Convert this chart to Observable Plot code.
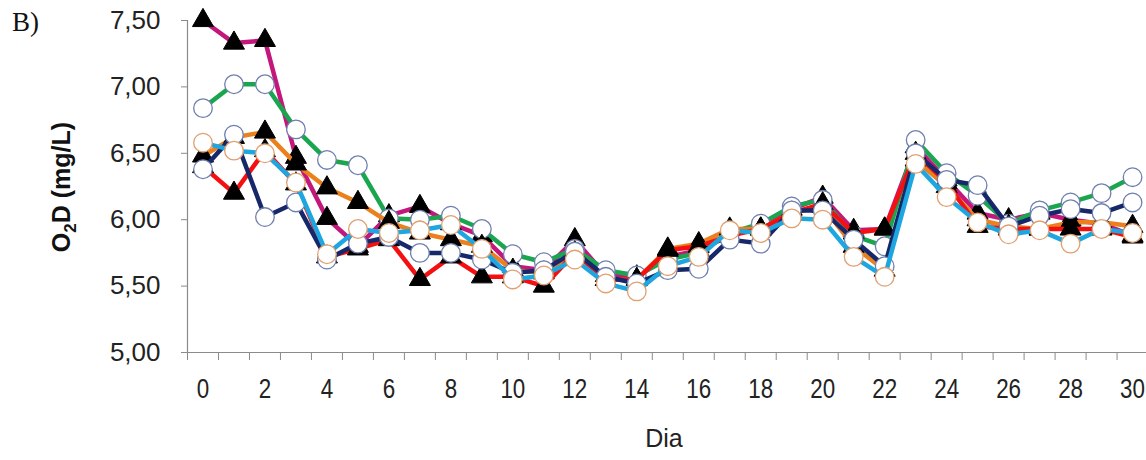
<!DOCTYPE html>
<html>
<head>
<meta charset="utf-8">
<script src="https://cdn.jsdelivr.net/npm/d3@7"></script>
<script src="https://cdn.jsdelivr.net/npm/@observablehq/plot@0.6"></script>
<style>
  html, body { margin: 0; padding: 0; background: #fff; }
  #chart { position: relative; width: 1146px; height: 460px; }
  #chart svg { position: absolute; left: 0; top: 0; }
</style>
</head>
<body>
<div id="chart"></div>
<script>
const days = d3.range(0, 31);
const yTicks = [5.0, 5.5, 6.0, 6.5, 7.0, 7.5];
const xLabels = d3.range(0, 31, 2);

const magenta = [7.50,7.33,7.35,6.47,6.01,5.80,6.03,6.10,5.97,5.88,5.65,5.62,5.85,5.58,5.57,5.72,5.77,5.88,5.95,6.08,6.17,5.92,5.93,6.55,6.30,6.05,6.00,6.05,6.00,5.97,5.88];
const green   = [6.84,7.02,7.02,6.68,6.45,6.41,6.01,6.00,6.03,5.93,5.74,5.68,5.78,5.62,5.58,5.70,5.75,5.90,5.97,6.10,6.15,5.88,5.80,6.60,6.35,6.18,5.97,6.07,6.13,6.20,6.32];
const orange  = [6.48,6.62,6.66,6.42,6.24,6.13,5.98,5.90,5.85,5.80,5.62,5.60,5.75,5.55,5.55,5.78,5.82,5.93,5.93,6.05,6.10,5.80,5.62,6.45,6.25,6.00,5.95,5.93,5.98,5.98,5.95];
const red     = [6.40,6.20,6.52,6.27,5.72,5.78,5.85,5.55,5.72,5.57,5.57,5.50,5.75,5.55,5.55,5.77,5.80,5.88,5.93,6.05,6.12,5.90,5.93,6.50,6.28,5.95,5.93,5.93,5.93,5.93,5.87];
const navy    = [6.38,6.64,6.02,6.13,5.70,5.82,5.87,5.75,5.75,5.70,5.60,5.62,5.76,5.57,5.52,5.62,5.63,5.85,5.82,6.07,6.07,5.85,5.65,6.50,6.30,6.26,5.95,6.03,6.08,6.05,6.13];
const cyan    = [6.58,6.52,6.50,6.28,5.74,5.93,5.90,5.92,5.96,5.78,5.55,5.58,5.70,5.52,5.46,5.65,5.72,5.92,5.90,6.01,6.00,5.72,5.57,6.42,6.17,5.98,5.89,5.92,5.82,5.93,5.90];

const series = [
  {name: "magenta", values: magenta, color: "#c4177c", marker: "triangle"},
  {name: "green",   values: green,   color: "#1aa64f", marker: "circle", ring: "#6f7fae"},
  {name: "orange",  values: orange,  color: "#ea801e", marker: "triangle"},
  {name: "red",     values: red,     color: "#f41010", marker: "triangle"},
  {name: "navy",    values: navy,    color: "#16286a", marker: "circle", ring: "#6f7fae"},
  {name: "cyan",    values: cyan,    color: "#1ea6e0", marker: "circle", ring: "#e0a070"}
];

const xEdges = days.map(d => d - 0.5).concat([30.5]);

const marks = [
  Plot.ruleY([5.0], {stroke: "#8a8a8a", strokeWidth: 1.2}),
  Plot.ruleX([-0.5], {stroke: "#8a8a8a", strokeWidth: 1.2}),
  Plot.axisX({ticks: xEdges, tickFormat: () => "", tickSize: 8, stroke: "#8a8a8a", strokeOpacity: 1}),
  Plot.axisX({ticks: xLabels, tickSize: 0, tickPadding: 26, fontSize: 28, fill: "#222",
              fontFamily: "'Liberation Sans', Arial, sans-serif"}),
  Plot.axisY({ticks: yTicks, tickSize: 6, tickPadding: 21, fontSize: 26, fill: "#222",
              stroke: "#8a8a8a", strokeOpacity: 1,
              fontFamily: "'Liberation Sans', Arial, sans-serif",
              tickFormat: d => d.toFixed(2).replace(".", ",")})
];

for (const s of series) {
  const data = days.map((d, i) => ({day: d, value: s.values[i]}));
  marks.push(Plot.line(data, {x: "day", y: "value", stroke: s.color, strokeWidth: 4.5, curve: "linear"}));
  if (s.marker === "triangle") {
    marks.push(Plot.dot(data, {x: "day", y: "value", symbol: "triangle", r: 7.8, fill: "#000", stroke: "#000", strokeWidth: 1}));
  } else {
    marks.push(Plot.dot(data, {x: "day", y: "value", symbol: "circle", r: 9.3, fill: "#fff", stroke: s.ring, strokeWidth: 1.3}));
  }
}

const chart = Plot.plot({
  width: 1146,
  height: 460,
  marginLeft: 187,
  marginRight: 0,
  marginTop: 20,
  marginBottom: 108,
  style: {background: "#fff", overflow: "visible"},
  x: {type: "linear", domain: [-0.5, 30.45], label: null},
  y: {type: "linear", domain: [5.0, 7.5], label: null},
  marks
});
document.getElementById("chart").appendChild(chart);

const svg = d3.select(chart);
// Condense x tick labels horizontally, as in the reference
svg.selectAll('g[aria-label="x-axis tick label"] text').each(function() {
  const t = this.getAttribute("transform") || "";
  this.setAttribute("transform", t + " scale(0.8,1)");
});
// Panel letter
svg.append("text")
  .attr("x", 12).attr("y", 31)
  .attr("text-anchor", "start")
  .attr("font-family", "'Liberation Serif', 'Times New Roman', serif")
  .attr("font-size", 27).attr("fill", "#111")
  .text("B)");
// Y title with subscript
const yt = svg.append("text")
  .attr("transform", "translate(70,187) rotate(-90)")
  .attr("text-anchor", "middle")
  .attr("font-family", "'Liberation Sans', Arial, sans-serif")
  .attr("font-weight", "bold")
  .attr("font-size", 25).attr("fill", "#111");
yt.append("tspan").text("O");
yt.append("tspan").attr("font-size", 17).attr("dy", 6).text("2");
yt.append("tspan").attr("dy", -6).text("D (mg/L)");
// X title
svg.append("text")
  .attr("x", 664).attr("y", 447)
  .attr("text-anchor", "middle")
  .attr("font-family", "'Liberation Sans', Arial, sans-serif")
  .attr("font-size", 25).attr("fill", "#222")
  .text("Dia");
</script>
</body>
</html>
